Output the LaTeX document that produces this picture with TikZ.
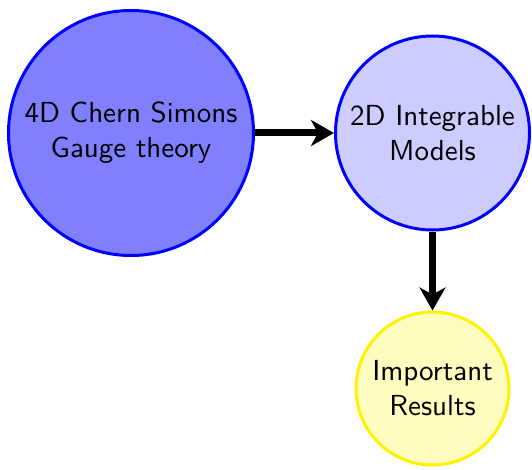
\documentclass[tikz,border=0pt]{standalone}
\usepackage{fontspec}
\newfontfamily\bubblefont[Extension=.otf]{lmsans10-regular}
\usetikzlibrary{arrows.meta}
\begin{document}
\begin{tikzpicture}[x=1pt,y=-1pt,
  bubble/.style={circle,draw,line width=3pt,inner sep=0pt,align=center,
    font=\bubblefont\fontsize{29}{35}\selectfont},
  flow/.style={line width=7pt,-{Stealth[length=23pt,width=26pt,inset=7pt]}}]
  \useasboundingbox (0,0) rectangle (532,470);
  \node[bubble,draw=blue,fill=blue!50,minimum size=245pt] (cs) at (131,133)
    {4D Chern Simons\\Gauge theory};
  \node[bubble,draw=blue,fill=blue!20,minimum size=194pt] (im) at (432.5,133)
    {2D Integrable\\Models};
  \node[bubble,draw=yellow,fill=yellow!25,minimum size=153pt] (res) at (432.5,388.5)
    {Important\\Results};
  \draw[flow] (cs) -- (im);
  \draw[flow] (im) -- (res);
\end{tikzpicture}
\end{document}
